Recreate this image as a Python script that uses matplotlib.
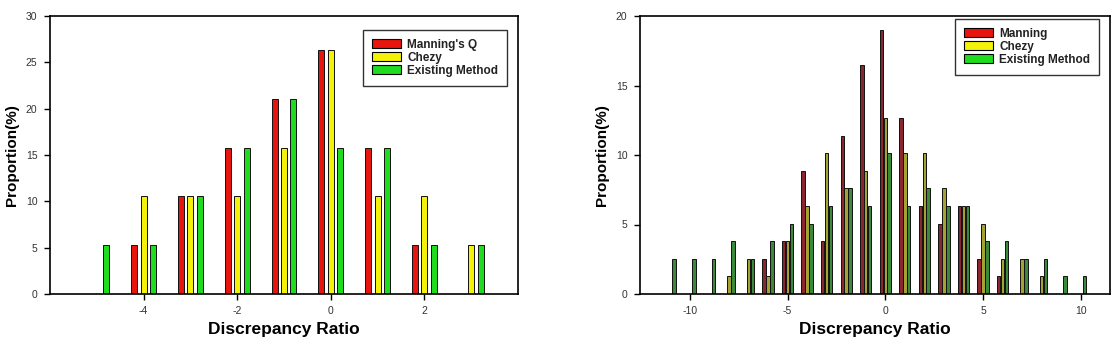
import matplotlib.pyplot as plt
from matplotlib.patches import Patch

plt.rcParams['font.family'] = ['Liberation Sans', 'DejaVu Sans']
plt.rcParams['axes.unicode_minus'] = False

######## Data ########
# left panel: 19 samples, proportion (%) per discrepancy ratio bin
left_bins = [-5, -4, -3, -2, -1, 0, 1, 2, 3]
left_manning = [0, 5.26, 10.53, 15.79, 21.05, 26.32, 15.79, 5.26, 0]
left_chezy = [0, 10.53, 10.53, 10.53, 15.79, 26.32, 10.53, 10.53, 5.26]
left_existing = [5.26, 5.26, 10.53, 15.79, 21.05, 15.79, 15.79, 5.26, 5.26]
left_names = ["Manning's Q", "Chezy", "Existing Method"]

# right panel: 79 samples
right_bins = [-11, -10, -9, -8, -7, -6, -5, -4, -3, -2, -1, 0,
              1, 2, 3, 4, 5, 6, 7, 8, 9, 10]
right_manning = [0, 0, 0, 0, 0, 2.53, 3.80, 8.86, 3.80, 11.39, 16.46, 18.99,
                 12.66, 6.33, 5.06, 6.33, 2.53, 1.27, 0, 0, 0, 0]
right_chezy = [0, 0, 0, 1.27, 2.53, 1.27, 3.80, 6.33, 10.13, 7.59, 8.86, 12.66,
               10.13, 10.13, 7.59, 6.33, 5.06, 2.53, 2.53, 1.27, 0, 0]
right_existing = [2.53, 2.53, 2.53, 3.80, 2.53, 3.80, 5.06, 5.06, 6.33, 7.59, 6.33, 10.13,
                  6.33, 7.59, 6.33, 6.33, 3.80, 3.80, 2.53, 2.53, 1.27, 1.27]
right_names = ["Manning", "Chezy", "Existing Method"]

colors = ['#e8150f', '#f5f20a', '#1fdc1f']
# narrow bars on the right look much darker in the original
dark_colors = ['#8a2630', '#a5a234', '#3a8a3a']


def draw_panel(ax, bins, series, names, width, bar_colors, xlim, ylim, yticks, xticks, legend_box):
    offsets = [-0.2, 0.0, 0.2]
    for vals, off, c in zip(series, offsets, bar_colors):
        xs = [b + off for b, v in zip(bins, vals) if v > 0]
        hs = [v for v in vals if v > 0]
        ax.bar(xs, hs, width=width, color=c, edgecolor='#111111', linewidth=0.7)

    ax.set_xlim(*xlim)
    ax.set_ylim(*ylim)
    ax.set_xticks(xticks)
    ax.set_yticks(yticks)
    ax.tick_params(direction='out', length=4, width=1, labelsize=7.5,
                   labelcolor='#333333', pad=5)
    for s in ax.spines.values():
        s.set_linewidth(1.2)
    ax.set_xlabel('Discrepancy Ratio', fontsize=12.5, fontweight='bold', labelpad=4)
    ax.set_ylabel('Proportion(%)', fontsize=11, fontweight='bold', labelpad=5)

    handles = [Patch(facecolor=c, edgecolor='black', linewidth=0.8) for c in colors]
    leg = ax.legend(handles, names, loc='upper right', bbox_to_anchor=legend_box,
                    prop={'weight': 'bold', 'size': 8.5}, fancybox=False,
                    edgecolor='#333333', framealpha=1, handlelength=2.4,
                    handleheight=0.75, labelspacing=0.08, borderpad=0.75,
                    handletextpad=0.55, borderaxespad=0)
    for t in leg.get_texts():
        t.set_color('#222222')
    leg.get_frame().set_linewidth(1.0)


fig = plt.figure(figsize=(11.15, 3.54), dpi=100)
ax1 = fig.add_axes([50 / 1115, 60 / 354, 468 / 1115, 278 / 354])
ax2 = fig.add_axes([640 / 1115, 60 / 354, 470 / 1115, 278 / 354])

draw_panel(ax1, left_bins, [left_manning, left_chezy, left_existing], left_names,
           0.13, colors, (-6, 4), (0, 30), range(0, 31, 5), [-4, -2, 0, 2],
           (1 - 11 / 468, 1 - 14 / 278))
draw_panel(ax2, right_bins, [right_manning, right_chezy, right_existing], right_names,
           0.18, dark_colors, (-12.55, 11.5), (0, 20), range(0, 21, 5), [-10, -5, 0, 5, 10],
           (1 - 11 / 470, 1 - 3 / 278))

fig.savefig('out.png', dpi=100)
